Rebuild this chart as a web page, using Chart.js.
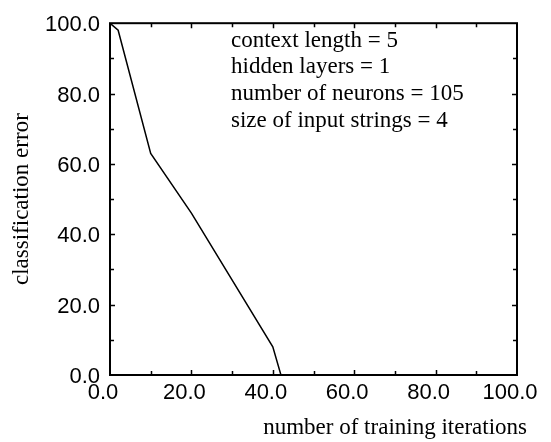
<!DOCTYPE html>
<html>
<head>
<meta charset="utf-8">
<script src="https://cdn.jsdelivr.net/npm/chart.js@4/dist/chart.umd.min.js"></script>
<style>
  html, body { margin: 0; padding: 0; background: #fff; }
  canvas { display: block; }
</style>
</head>
<body>
<canvas id="errorchart" width="551" height="442"></canvas>
<script>
// training run: classification error vs. iterations
const iterations = [0, 2, 10, 20, 40, 42];
const errors = [100, 98, 63, 46, 8, 0];

const xTicks = [0, 20, 40, 60, 80, 100];
const yTicks = [0, 20, 40, 60, 80, 100];

const notes = [
  'context length = 5',
  'hidden layers = 1',
  'number of neurons = 105',
  'size of input strings = 4'
];
const xTitle = 'number of training iterations';
const yTitle = 'classification error';

const serif = '"Liberation Serif", "Times New Roman", serif';
const sans = '"Liberation Sans", Arial, sans-serif';

// box around the plot, inward ticks on all four sides, notes and x title
const frame = {
  id: 'frame',
  afterDraw(chart) {
    const { ctx, chartArea: a, scales: { x, y } } = chart;
    ctx.save();
    ctx.strokeStyle = '#000';
    ctx.lineWidth = 2;
    ctx.strokeRect(a.left, a.top, a.right - a.left, a.bottom - a.top);

    ctx.lineWidth = 1.5;
    ctx.beginPath();
    for (let v = 10; v < 100; v += 10) {
      const len = v % 20 === 0 ? 5 : 4;
      const px = Math.round(x.getPixelForValue(v)) + 0.5;
      ctx.moveTo(px, a.bottom); ctx.lineTo(px, a.bottom - len);
      ctx.moveTo(px, a.top); ctx.lineTo(px, a.top + len);
      const py = Math.round(y.getPixelForValue(v)) + 0.5;
      ctx.moveTo(a.left, py); ctx.lineTo(a.left + len, py);
      ctx.moveTo(a.right, py); ctx.lineTo(a.right - len, py);
    }
    ctx.stroke();

    ctx.fillStyle = '#000';
    ctx.font = '23px ' + serif;
    ctx.textAlign = 'left';
    ctx.textBaseline = 'alphabetic';
    notes.forEach((t, i) => ctx.fillText(t, 231, 46.5 + i * 26.7));

    ctx.textAlign = 'right';
    ctx.fillText(xTitle, 527, 434);
    ctx.restore();
  }
};

const ctx = document.getElementById('errorchart').getContext('2d');

const errorchart = new Chart(ctx, {
  type: 'scatter',
  data: {
    datasets: [{
      data: iterations.map((v, i) => ({ x: v, y: errors[i] })),
      showLine: true,
      borderColor: '#000',
      borderWidth: 1.5,
      pointRadius: 0,
      tension: 0,
      fill: false
    }]
  },
  options: {
    responsive: false,
    animation: false,
    layout: { padding: { top: 14, right: 34, left: 0, bottom: 0 } },
    plugins: {
      legend: { display: false },
      tooltip: { enabled: false }
    },
    scales: {
      x: {
        type: 'linear',
        position: 'bottom',
        min: 0,
        max: 100,
        afterFit: s => { s.height = 67; },
        afterBuildTicks: s => { s.ticks = xTicks.map(v => ({ value: v })); },
        grid: { display: false, drawTicks: false },
        border: { display: false },
        ticks: {
          padding: 5,
          labelOffset: -7,
          maxRotation: 0,
          autoSkip: false,
          color: '#000',
          font: { family: sans, size: 22 },
          callback: v => Number(v).toFixed(1)
        }
      },
      y: {
        type: 'linear',
        position: 'left',
        min: 0,
        max: 100,
        afterFit: s => { s.width = 110; },
        afterBuildTicks: s => { s.ticks = yTicks.map(v => ({ value: v })); },
        grid: { display: false, drawTicks: false },
        border: { display: false },
        ticks: {
          padding: 10,
          labelOffset: 2,
          autoSkip: false,
          color: '#000',
          font: { family: sans, size: 22 },
          callback: v => Number(v).toFixed(1)
        },
        title: {
          display: true,
          text: yTitle,
          color: '#000',
          font: { family: serif, size: 23 },
          padding: { top: 8, bottom: 0 }
        }
      }
    }
  },
  plugins: [frame]
});
</script>
</body>
</html>
